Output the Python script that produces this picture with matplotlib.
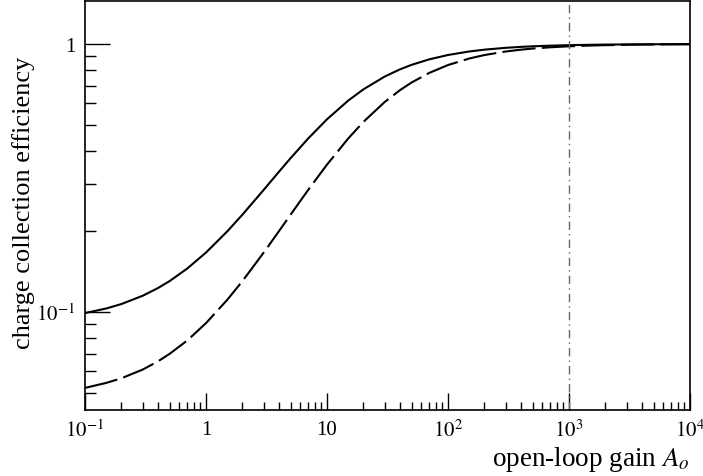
import numpy as np
import matplotlib
matplotlib.use('Agg')
from matplotlib import pyplot as plt
from matplotlib.ticker import LogLocator, FixedLocator, FixedFormatter, NullFormatter

plt.rcParams['font.family'] = ['Liberation Serif', 'DejaVu Serif']
plt.rcParams['mathtext.fontset'] = 'stix'

# open-loop gain values
gain = [0.1, 0.15, 0.2, 0.3, 0.4, 0.5, 0.7,
        1, 1.5, 2, 3, 4, 5, 7,
        10, 15, 20, 30, 40, 50, 70,
        100, 150, 200, 300, 400, 500, 700,
        1000, 1500, 2000, 3000, 4000, 5000, 7000, 10000]

# solid curve
eff_solid = [0.0991, 0.1031, 0.1071, 0.1150, 0.1228, 0.1304, 0.1453,
             0.1667, 0.2000, 0.2308, 0.2857, 0.3333, 0.3750, 0.4444,
             0.5238, 0.6154, 0.6774, 0.7561, 0.8039, 0.8361, 0.8765,
             0.9099, 0.9379, 0.9526, 0.9678, 0.9757, 0.9804, 0.9859,
             0.9901, 0.9934, 0.9950, 0.9967, 0.9975, 0.9980, 0.9986, 0.9990]

# dashed curve
eff_dashed = [0.0521, 0.0544, 0.0566, 0.0610, 0.0654, 0.0698, 0.0783,
              0.0909, 0.1111, 0.1304, 0.1667, 0.2000, 0.2308, 0.2857,
              0.3548, 0.4444, 0.5122, 0.6078, 0.6721, 0.7183, 0.7802,
              0.8347, 0.8830, 0.9095, 0.9377, 0.9525, 0.9616, 0.9723,
              0.9804, 0.9869, 0.9901, 0.9934, 0.9950, 0.9960, 0.9971, 0.9980]

marker_gain = 1000

x_ticks = [0.1, 1, 10, 100, 1000, 10000]
x_labels = ['$10^{-1}$', '1', '10', '$10^{2}$', '$10^{3}$', '$10^{4}$']
y_ticks = [0.1, 1]
y_labels = ['$10^{-1}$', '1']

fig = plt.figure(figsize=(7.03, 4.77), dpi=100)
ax = fig.add_axes([0.1209, 0.1384, 0.8606, 0.8574])

ax.plot(gain, eff_solid, color='black', lw=1.5)
ax.plot(gain, eff_dashed, color='black', lw=1.5, dashes=(16, 3))
ax.axvline(marker_gain, color='#666666', lw=1.0, dashes=(6, 3, 1, 3))

ax.set_xscale('log')
ax.set_yscale('log')
ax.set_xlim(0.1, 10000)
ax.set_ylim(0.0431, 1.447)

ax.xaxis.set_major_locator(FixedLocator(x_ticks))
ax.xaxis.set_major_formatter(FixedFormatter(x_labels))
ax.xaxis.set_minor_locator(LogLocator(base=10, subs=np.arange(2, 10), numticks=20))
ax.xaxis.set_minor_formatter(NullFormatter())
ax.yaxis.set_major_locator(FixedLocator(y_ticks))
ax.yaxis.set_major_formatter(FixedFormatter(y_labels))
ax.yaxis.set_minor_locator(LogLocator(base=10, subs=np.arange(2, 10), numticks=20))
ax.yaxis.set_minor_formatter(NullFormatter())

ax.tick_params(axis='both', which='both', direction='in', top=False, right=False,
               labelsize=15, width=1.0)
ax.tick_params(axis='x', which='major', length=12, pad=7)
ax.tick_params(axis='x', which='minor', length=6)
ax.tick_params(axis='y', which='major', length=18, pad=7)
ax.tick_params(axis='y', which='minor', length=8)

for sp in ax.spines.values():
    sp.set_linewidth(1.2)

ax.set_xlabel('open-loop gain $A_o$', fontsize=19.5, ha='right')
ax.xaxis.set_label_coords(1.0, -0.083)
ax.set_ylabel('charge collection efficiency', fontsize=19)
ax.yaxis.set_label_coords(-0.083, 0.509)

fig.savefig('out.png', dpi=100)
